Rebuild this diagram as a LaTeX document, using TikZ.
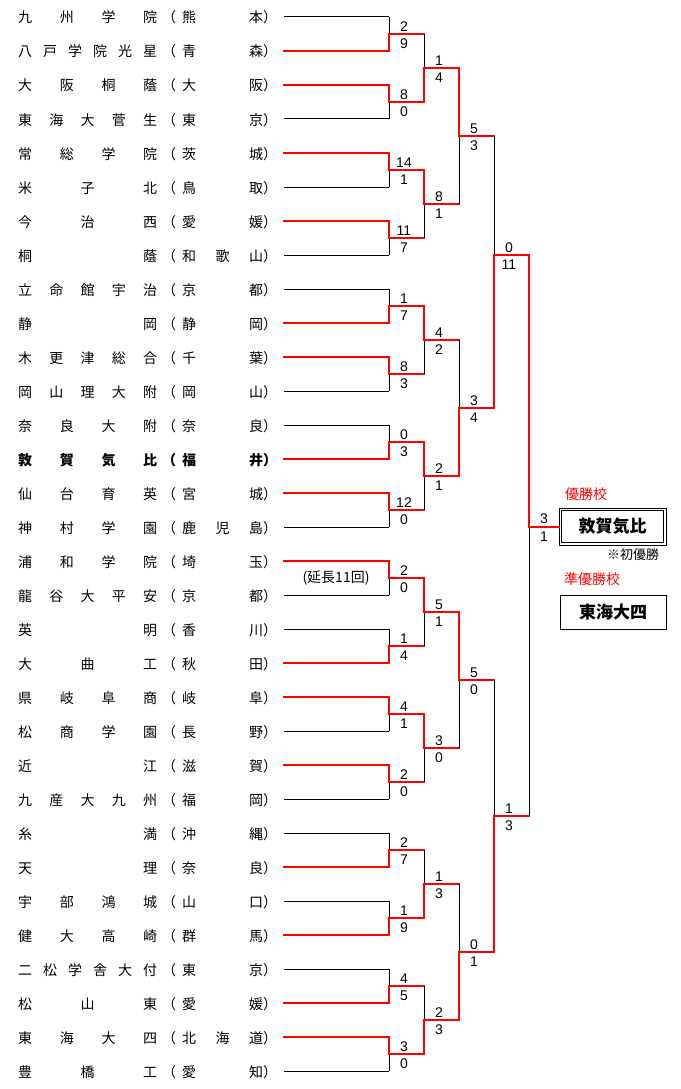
\documentclass[tikz,border=0pt]{standalone}
\usepackage{fontspec}
\setmainfont{Noto Sans CJK JP}
\newfontfamily\digitfont{Liberation Sans}
\usetikzlibrary{calc}
\definecolor{winred}{RGB}{255,0,0}

% spread the characters of a name over the whole box
\def\spreadnext#1{#1\futurelet\nexttok\spreadchk}
\def\spreadchk{\ifx\nexttok\relax\expandafter\spreadstop\else\hfill\expandafter\spreadnext\fi}
\def\spreadstop\relax{}
\newcommand\spreadname[1]{\expandafter\spreadnext#1\relax}

\tikzset{
  team/.style   = {anchor=base west, inner sep=0pt, font=\fontsize{14}{16}\selectfont},
  score/.style  = {inner sep=0pt, font=\digitfont\fontsize{14}{16}\selectfont},
  lose/.style   = {draw=black, line width=1pt},
  win/.style    = {draw=winred, line width=2pt, line cap=rect},
  note/.style   = {inner sep=0pt, font=\fontsize{14}{16}\selectfont},
  rednote/.style= {note, text=winred},
  champ/.style  = {draw, line width=0.9pt, minimum width=107pt, minimum height=37pt,
                   inner sep=0pt},
  champin/.style= {draw, line width=0.9pt, minimum width=102pt, minimum height=32pt,
                   inner sep=0pt, font=\bfseries\fontsize{17}{19}\selectfont},
  runnerup/.style = {draw, line width=1pt, minimum width=106pt, minimum height=34pt,
                   inner sep=0pt, font=\bfseries\fontsize{17}{19}\selectfont},
}

% one game: top in, bottom in, out, top score, bottom score, winner
\newcommand\game[6]{%
  \draw[lose] (#1) -- (#2);
  \draw[win] (#6) -- (#6 |- #3) -- (#3);
  \path (#1 |- #3) ++(15,-7.5) node[score] (#3-t) {#4}
                   ++(0,17.5)  node[score] (#3-b) {#5};
}

\begin{document}
\begin{tikzpicture}[x=1pt, y=-1pt]
\useasboundingbox (0,0) rectangle (680,1089);

%% ── Teams and first lines ────────────────────────────────────────────────────
\foreach \sch/\pref/\st [count=\i] in {
  九州学院/熊本/lose, 八戸学院光星/青森/win, 大阪桐蔭/大阪/win, 東海大菅生/東京/lose,
  常総学院/茨城/win, 米子北/鳥取/lose, 今治西/愛媛/win, 桐蔭/和歌山/lose,
  立命館宇治/京都/lose, 静岡/静岡/win, 木更津総合/千葉/win, 岡山理大附/岡山/lose,
  奈良大附/奈良/lose, 敦賀気比/福井/win, 仙台育英/宮城/win, 神村学園/鹿児島/lose,
  浦和学院/埼玉/win, 龍谷大平安/京都/lose, 英明/香川/lose, 大曲工/秋田/win,
  県岐阜商/岐阜/win, 松商学園/長野/lose, 近江/滋賀/win, 九産大九州/福岡/lose,
  糸満/沖縄/lose, 天理/奈良/win, 宇部鴻城/山口/lose, 健大高崎/群馬/win,
  二松学舎大付/東京/lose, 松山東/愛媛/win, 東海大四/北海道/win, 豊橋工/愛知/lose}{
  \pgfmathsetmacro\ty{17+34*(\i-1)}
  \node[team] (t\i) at (18,\ty+6) {\ifnum\i=14 \bfseries\fi
    \makebox[139pt][s]{\spreadname{\sch}}\hspace{5pt}（\hspace{6pt}%
    \makebox[81pt][s]{\spreadname{\pref}}）};
  \coordinate (a\i) at (284,\ty);
  \coordinate (b\i) at (389,\ty);
  \draw[\st] (a\i) -- (b\i);
}

%% ── Round ends ───────────────────────────────────────────────────────────────
\foreach \j in {1,...,16} \coordinate (r1-\j) at (424,{34+68*(\j-1)});
\foreach \j in {1,...,8}  \coordinate (r2-\j) at (459,{68+136*(\j-1)});
\foreach \j in {1,...,4}  \coordinate (r3-\j) at (494,{136+272*(\j-1)});
\coordinate (r4-1) at (529,255);
\coordinate (r4-2) at (529,816);

%% ── Round 1 ──────────────────────────────────────────────────────────────────
\game{b1}{b2}{r1-1}{2}{9}{b2}
\game{b3}{b4}{r1-2}{8}{0}{b3}
\game{b5}{b6}{r1-3}{14}{1}{b5}
\game{b7}{b8}{r1-4}{11}{7}{b7}
\game{b9}{b10}{r1-5}{1}{7}{b10}
\game{b11}{b12}{r1-6}{8}{3}{b11}
\game{b13}{b14}{r1-7}{0}{3}{b14}
\game{b15}{b16}{r1-8}{12}{0}{b15}
\game{b17}{b18}{r1-9}{2}{0}{b17}
\game{b19}{b20}{r1-10}{1}{4}{b20}
\game{b21}{b22}{r1-11}{4}{1}{b21}
\game{b23}{b24}{r1-12}{2}{0}{b23}
\game{b25}{b26}{r1-13}{2}{7}{b26}
\game{b27}{b28}{r1-14}{1}{9}{b28}
\game{b29}{b30}{r1-15}{4}{5}{b30}
\game{b31}{b32}{r1-16}{3}{0}{b31}

\node[note] (extra) at (336,578) {(延長11回)};

%% ── Round 2 ──────────────────────────────────────────────────────────────────
\game{r1-1}{r1-2}{r2-1}{1}{4}{r1-2}
\game{r1-3}{r1-4}{r2-2}{8}{1}{r1-3}
\game{r1-5}{r1-6}{r2-3}{4}{2}{r1-5}
\game{r1-7}{r1-8}{r2-4}{2}{1}{r1-7}
\game{r1-9}{r1-10}{r2-5}{5}{1}{r1-9}
\game{r1-11}{r1-12}{r2-6}{3}{0}{r1-11}
\game{r1-13}{r1-14}{r2-7}{1}{3}{r1-14}
\game{r1-15}{r1-16}{r2-8}{2}{3}{r1-16}

%% ── Quarter finals ───────────────────────────────────────────────────────────
\game{r2-1}{r2-2}{r3-1}{5}{3}{r2-1}
\game{r2-3}{r2-4}{r3-2}{3}{4}{r2-4}
\game{r2-5}{r2-6}{r3-3}{5}{0}{r2-5}
\game{r2-7}{r2-8}{r3-4}{0}{1}{r2-8}

%% ── Semi finals ──────────────────────────────────────────────────────────────
\game{r3-1}{r3-2}{r4-1}{0}{11}{r3-2}
\game{r3-3}{r3-4}{r4-2}{1}{3}{r3-4}

%% ── Final and result boxes ───────────────────────────────────────────────────
\node[rednote] (wlbl) at (586,494) {優勝校};
\node[champ] (champ) at (612.5,526.5) {};
\node[champin] (champin) at (champ) {敦賀気比};
\node[note, font=\fontsize{13}{15}\selectfont] (first) at (633,554.5) {※初優勝};
\node[rednote] (rlbl) at (592,579) {準優勝校};
\node[runnerup] (second) at (613,612) {東海大四};

\coordinate (fin) at (champ.west);
\game{r4-1}{r4-2}{fin}{3}{1}{r4-1}

\end{tikzpicture}
\end{document}
